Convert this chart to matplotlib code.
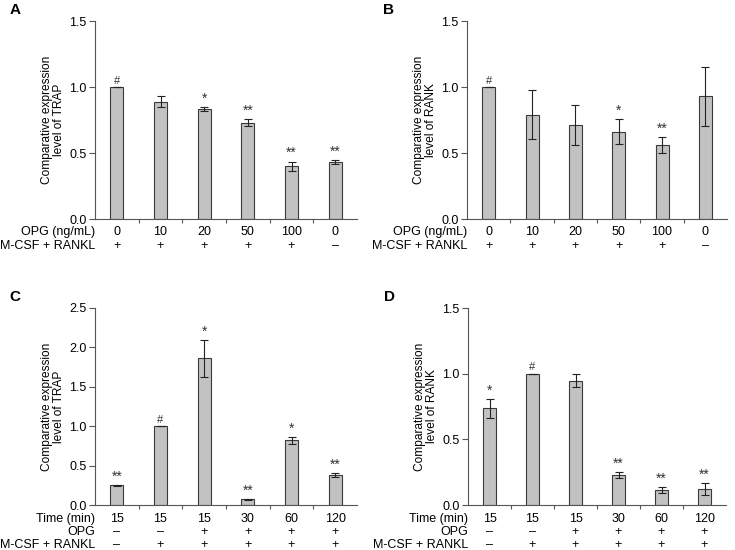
import numpy as np
import matplotlib
matplotlib.use("Agg")
import matplotlib.pyplot as plt

plt.rcParams['font.family'] = ['Liberation Sans', 'DejaVu Sans']
plt.rcParams['font.size'] = 9

# ---- data ----
opg_conc = ['0', '10', '20', '50', '100', '0']
mcsf_ab = ['+', '+', '+', '+', '+', '–']

trap_a = [1.0, 0.89, 0.83, 0.73, 0.40, 0.43]
trap_a_err = [0, 0.045, 0.015, 0.028, 0.035, 0.015]
trap_a_sig = ['#', '', '*', '**', '**', '**']

rank_b = [1.0, 0.79, 0.71, 0.66, 0.56, 0.93]
rank_b_err = [0, 0.185, 0.15, 0.094, 0.063, 0.225]
rank_b_sig = ['#', '', '', '*', '**', '']

time_min = ['15', '15', '15', '30', '60', '120']
opg_cd = ['–', '–', '+', '+', '+', '+']
mcsf_cd = ['–', '+', '+', '+', '+', '+']

trap_c = [0.25, 1.0, 1.86, 0.07, 0.82, 0.375]
trap_c_err = [0.005, 0, 0.23, 0.008, 0.04, 0.025]
trap_c_sig = ['**', '#', '*', '**', '*', '**']

rank_d = [0.735, 1.0, 0.945, 0.23, 0.115, 0.122]
rank_d_err = [0.07, 0, 0.05, 0.022, 0.022, 0.043]
rank_d_sig = ['*', '#', '', '**', '**', '**']

W, H = 735, 550
fig = plt.figure(figsize=(W / 100, H / 100), dpi=100)


def make_axes(left, top, right, bottom):
    # pixel box -> figure fraction
    return fig.add_axes([left / W, 1 - bottom / H, (right - left) / W, (bottom - top) / H])


def draw_panel(ax, vals, errs, sigs, ymax, ystep, ylabel, rows, letter, ax_h_px):
    x = np.arange(len(vals))
    ax.bar(x, vals, width=0.3, color='#c2c2c2', edgecolor='#3a3a3a', linewidth=0.8, zorder=2)
    ax.errorbar(x, vals, yerr=errs, fmt='none', ecolor='#222222', elinewidth=0.8,
                capsize=3, capthick=0.8, zorder=3)
    for xi, v, e, s in zip(x, vals, errs, sigs):
        if s:
            fs = 8 if s == '#' else 10
            ax.annotate(s, (xi, v + e), xytext=(0, 1), textcoords='offset points',
                        ha='center', va='bottom', fontsize=fs, color='#333333')
    ax.set_xlim(-0.5, len(vals) - 0.5)
    ax.set_ylim(0, ymax)
    ax.set_yticks(np.arange(0, ymax + 0.001, ystep))
    ax.set_yticklabels([f'{t:.1f}' for t in np.arange(0, ymax + 0.001, ystep)])
    ax.set_xticks(np.arange(0.5, len(vals) - 0.5))
    ax.set_xticklabels([])
    ax.tick_params(axis='x', direction='out', length=3, width=0.8, color='#555555')
    ax.tick_params(axis='y', direction='out', length=4, width=0.8, color='#555555',
                   labelsize=9, pad=2)
    for sp in ['top', 'right']:
        ax.spines[sp].set_visible(False)
    for sp in ['left', 'bottom']:
        ax.spines[sp].set_linewidth(0.8)
        ax.spines[sp].set_color('#555555')
    ax.set_ylabel(ylabel, fontsize=8.6, linespacing=1.0)
    ax.yaxis.set_label_coords(-0.115, 0.5)
    trans = ax.get_xaxis_transform()
    for k, (name, labels, off) in enumerate(rows):
        yy = -off / ax_h_px
        ax.text(0.0, yy, name, transform=ax.transAxes, ha='right', va='center', fontsize=9)
        for xi, lab in zip(x, labels):
            ax.text(xi, yy, lab, transform=trans, ha='center', va='center', fontsize=9)
    ax.text(-0.325, 1.055, letter, transform=ax.transAxes, fontsize=11, fontweight='bold',
            ha='left', va='center')


axA = make_axes(95, 21, 357, 219)
draw_panel(axA, trap_a, trap_a_err, trap_a_sig, 1.5, 0.5,
           'Comparative expression\nlevel of TRAP',
           [('OPG (ng/mL)', opg_conc, 13), ('M-CSF + RANKL', mcsf_ab, 27)], 'A', 198)

axB = make_axes(467, 21, 727, 219)
draw_panel(axB, rank_b, rank_b_err, rank_b_sig, 1.5, 0.5,
           'Comparative expression\nlevel of RANK',
           [('OPG (ng/mL)', opg_conc, 13), ('M-CSF + RANKL', mcsf_ab, 27)], 'B', 198)

axC = make_axes(95, 308, 357, 505)
draw_panel(axC, trap_c, trap_c_err, trap_c_sig, 2.5, 0.5,
           'Comparative expression\nlevel of TRAP',
           [('Time (min)', time_min, 14), ('OPG', opg_cd, 27), ('M-CSF + RANKL', mcsf_cd, 40)],
           'C', 197)

axD = make_axes(468, 308, 726, 505)
draw_panel(axD, rank_d, rank_d_err, rank_d_sig, 1.5, 0.5,
           'Comparative expression\nlevel of RANK',
           [('Time (min)', time_min, 14), ('OPG', opg_cd, 27), ('M-CSF + RANKL', mcsf_cd, 40)],
           'D', 197)

fig.savefig('out.png', dpi=100)
